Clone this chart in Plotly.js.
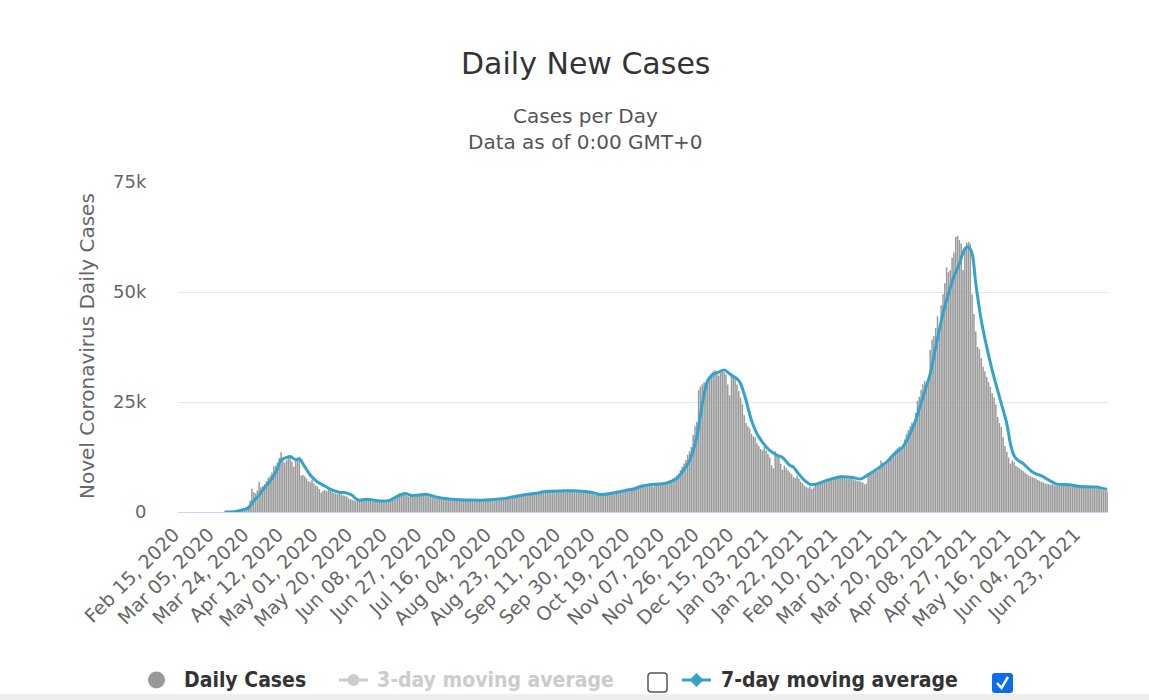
<!DOCTYPE html>
<html><head><meta charset="utf-8">
<script src="https://cdn.plot.ly/plotly-3.0.1.min.js"></script>
<style>html,body{margin:0;padding:0;background:#fff;}#chart{width:1149px;height:700px;}</style>
</head><body><div id="chart"></div>
<script>
// ---- data ----
const startDate = '2020-02-15';
const dailyCases = [
0,0,0,0,0,0,0,0,0,0,
0,0,0,0,0,0,0,0,0,0,
0,0,0,0,0,2,5,10,20,50,
100,150,250,350,500,700,900,1200,1500,2600,
5300,4500,4200,4900,6800,5600,5900,6300,7000,7800,
8300,9000,10300,10600,11200,12300,13600,12400,11200,11800,
12800,12300,11500,10300,11600,12000,12100,8300,8400,8100,
7600,7000,6800,7300,6500,6000,5800,5200,4400,4800,
5000,4700,5300,5100,4600,4300,4200,4100,4600,4000,
3800,3700,3500,3100,2900,2800,2600,2500,2500,2600,
2700,2600,2500,2700,2600,2500,2400,2500,2400,2400,
2300,2400,2500,2600,2700,2800,3000,3200,3400,3700,
4000,4300,4200,4100,3900,3700,3500,3600,3700,3800,
3800,3900,3800,3700,3800,3900,3700,3500,3400,3300,
3200,3100,3100,3000,2900,2900,2800,2800,2700,2700,
2600,2700,2600,2600,2700,2600,2500,2600,2600,2500,
2500,2600,2600,2500,2500,2600,2600,2600,2500,2600,
2600,2700,2700,2800,2800,2900,2900,3000,3000,3100,
3200,3200,3300,3300,3400,3500,3600,3700,3800,3800,
3900,4000,4000,4100,4200,4200,4300,4300,4400,4500,
4500,4600,4700,4700,4800,4800,4800,4700,4800,4800,
4900,4800,4700,4800,4800,4900,4800,4700,4800,4800,
4700,4700,4600,4600,4500,4400,4300,4100,4000,3900,
4000,4000,4100,4200,4200,4300,4300,4400,4400,4500,
4600,4700,4800,4800,4900,5000,5100,5200,5400,5500,
5700,5900,6000,6100,6200,6200,6300,6300,6200,6300,
5800,6300,6400,6400,6400,6500,6600,6700,7000,7200,
7300,7600,7900,8300,8700,9500,10200,11000,11800,13000,
13800,14800,17500,19500,20500,27700,28500,29000,29500,28900,
30200,30800,31500,31900,32200,31600,31000,31800,32300,31800,
31200,29000,26500,31300,31000,30500,29000,27500,26000,24500,
22000,20200,19500,19000,17800,17200,17000,15600,15000,14300,
14000,14800,14000,13200,12400,10600,9900,13800,13200,12600,
11000,9600,10500,10000,9500,9000,8600,8000,7700,8300,
7600,6900,6500,6000,5700,5400,5800,5200,5600,6100,
6400,6700,6500,6900,7000,7300,7200,7500,7700,7900,
7800,8000,8200,8300,8100,8000,7800,7600,7900,7700,
7400,7200,7100,7000,6800,6700,6300,6500,8800,9000,
9100,9300,9500,9400,9800,11700,11200,10600,11400,12000,
12300,12800,13400,14000,14500,14900,14600,15200,16500,17800,
18600,19500,20300,20100,22500,25300,26200,27800,29000,29800,
28500,30000,36800,39200,40000,41800,44500,42000,47000,49500,
52000,55600,54500,55000,57800,59000,62500,62800,61800,61000,
55000,60200,61200,61400,61000,49500,45000,41000,37500,37000,
35000,33000,32000,30700,29500,28400,27000,26000,24500,21600,
20200,19300,17000,15000,13700,12400,11000,11700,11300,10500,
10200,9900,9600,9300,9000,8600,8300,8100,7900,7700,
7500,7300,7100,6900,6700,6500,6400,6300,6200,6300,
6100,6000,6100,6000,6200,6100,5900,6000,5900,5800,
5900,5800,5700,5800,5700,5600,5800,5700,5600,5700,
5500,5600,5500,5400,5300,5200,5000,4900,4800,4700
];
// 7-day moving average, read at these day positions (index from startDate)
const maDayIndex = [25,30,33,36,38,41,44,47,51,54,56,59,61,64,66,69,72,76,80,84,88,92,95,97,99,103,107,110,116,119,124,127,130,136,141,147,154,161,168,177,188,195,202,210,219,226,231,239,246,250,254,258,265,269,273,276,280,284,287,290,293,296,299,302,306,308,311,314,317,320,324,328,331,335,337,339,343,347,350,356,363,369,374,378,383,389,392,397,401,404,408,412,415,419,422,425,428,431,433,435,437,440,443,446,450,454,456,458,460,463,468,474,481,488,494,503,509];
const maValues = [0,50,300,600,900,2500,3900,5500,7600,9800,11800,12400,12600,11900,12100,10300,8400,6800,5900,5000,4500,4300,3800,3000,2700,2900,2700,2500,2700,3400,4200,3800,3800,4000,3400,3000,2800,2700,2700,3000,3800,4200,4700,4800,4800,4500,4000,4400,5000,5300,5900,6200,6400,6800,7600,9100,11700,17000,24600,29900,31300,31800,32300,31400,30300,29200,25400,20800,17800,15900,14000,12900,12400,10600,10200,9100,7200,6200,6400,7300,8000,7900,7500,8500,9800,11700,13100,14800,17800,20800,26100,31400,37500,45100,49600,53500,56400,59800,60200,58700,51900,43600,37500,32200,26100,20100,15500,12800,11800,11000,9100,8000,6400,6200,5800,5700,5100];
const tickLabels = ['Feb 15, 2020','Mar 05, 2020','Mar 24, 2020','Apr 12, 2020','May 01, 2020','May 20, 2020','Jun 08, 2020','Jun 27, 2020','Jul 16, 2020','Aug 04, 2020','Aug 23, 2020','Sep 11, 2020','Sep 30, 2020','Oct 19, 2020','Nov 07, 2020','Nov 26, 2020','Dec 15, 2020','Jan 03, 2021','Jan 22, 2021','Feb 10, 2021','Mar 01, 2021','Mar 20, 2021','Apr 08, 2021','Apr 27, 2021','May 16, 2021','Jun 04, 2021','Jun 23, 2021'];
const tickStep = 19;
const yTickVals = [0,25000,50000,75000];
const yTickText = ['0','25k','50k','75k'];

// ---- categories (one per day) ----
const t0 = Date.parse(startDate + 'T00:00:00Z');
const dates = dailyCases.map((_, i) => new Date(t0 + i * 86400000).toISOString().slice(0, 10));
const tickVals = tickLabels.map((_, k) => dates[k * tickStep]);

// ---- pixel helpers for decorations ----
const W = 1149, H = 700, L = 178, R = 1108, T = 182, B = 512;
const px = x => (x - L) / (R - L);
const py = y => (B - y) / (B - T);
function roundRect(x0, y0, x1, y1, r) {
  const P = (x, y) => px(x) + ',' + py(y);
  return 'M' + P(x0 + r, y0) + ' L' + P(x1 - r, y0) + ' Q' + P(x1, y0) + ' ' + P(x1, y0 + r) +
    ' L' + P(x1, y1 - r) + ' Q' + P(x1, y1) + ' ' + P(x1 - r, y1) +
    ' L' + P(x0 + r, y1) + ' Q' + P(x0, y1) + ' ' + P(x0, y1 - r) +
    ' L' + P(x0, y0 + r) + ' Q' + P(x0, y0) + ' ' + P(x0 + r, y0) + ' Z';
}
function pathPx(pts, close) {
  return pts.map((p, i) => (i ? 'L' : 'M') + px(p[0]) + ',' + py(p[1])).join(' ') + (close ? ' Z' : '');
}

const FONT = 'DejaVu Sans, Verdana, sans-serif';
const LEGFONT = 'DejaVu Sans Condensed, Liberation Sans Narrow, DejaVu Sans, sans-serif';
const BLUE = '#33a3cc';

const traces = [
  { type: 'bar', x: dates, y: dailyCases, marker: { color: '#999999', line: { width: 0 } },
    name: 'Daily Cases', hoverinfo: 'x+y' },
  { type: 'scatter', mode: 'lines', x: maDayIndex.map(i => dates[i]), y: maValues,
    line: { color: BLUE, width: 3, shape: 'spline', smoothing: 0.8 }, name: '7-day moving average' }
];

const ann = (text, x, y, size, color, extra) => Object.assign({
  text, xref: 'paper', yref: 'paper', x: px(x), y: py(y), showarrow: false,
  xanchor: 'center', yanchor: 'middle', font: { family: FONT, size, color }
}, extra || {});

const layout = {
  width: W, height: H, showlegend: false,
  paper_bgcolor: '#ffffff', plot_bgcolor: '#ffffff',
  margin: { l: L, r: W - R, t: T, b: H - B, pad: 0 },
  font: { family: FONT, color: '#666666' },
  bargap: 0.18,
  xaxis: {
    type: 'date', range: [t0 - 43200000, t0 + (dailyCases.length - 1) * 86400000 + 43200000],
    tickmode: 'array', tickvals: tickVals, ticktext: tickLabels, tickangle: -45,
    tickfont: { family: FONT, size: 19, color: '#666666' },
    ticks: 'outside', ticklen: 3, tickcolor: 'rgba(0,0,0,0)', ticklabelshift: -5,
    showgrid: false, zeroline: false, showline: true, linecolor: '#ccd6eb', linewidth: 1,
    fixedrange: true
  },
  yaxis: {
    range: [0, 75000], tickmode: 'array', tickvals: yTickVals, ticktext: yTickText,
    tickfont: { family: FONT, size: 18, color: '#666666' },
    ticks: 'outside', ticklen: 27, tickcolor: 'rgba(0,0,0,0)',
    showgrid: true, gridcolor: '#e6e6e6', gridwidth: 1, zeroline: false, showline: false,
    fixedrange: true
  },
  annotations: [
    ann('Daily New Cases', 585, 63, 30, '#333333'),
    ann('Cases per Day', 585, 116, 20, '#555555'),
    ann('Data as of 0:00 GMT+0', 585, 142, 20, '#555555'),
    ann('Novel Coronavirus Daily Cases', 87, 346, 20, '#666666', { textangle: -90 }),
    ann('<b>Daily Cases</b>', 182, 680, 21, '#333333', { xanchor: 'left', font: { family: LEGFONT, size: 21, color: '#333333' } }),
    ann('<b>3-day moving average</b>', 375, 680, 21, '#cccccc', { xanchor: 'left', font: { family: LEGFONT, size: 21, color: '#cccccc' } }),
    ann('<b>7-day moving average</b>', 719, 680, 21, '#333333', { xanchor: 'left', font: { family: LEGFONT, size: 21, color: '#333333' } })
  ],
  shapes: [
    { type: 'rect', xref: 'paper', yref: 'paper', x0: px(0), x1: px(W), y0: py(700), y1: py(694),
      fillcolor: '#eeeeee', line: { width: 0 }, layer: 'below' },
    { type: 'circle', xref: 'paper', yref: 'paper', x0: px(148), x1: px(165), y0: py(688.5), y1: py(671.5),
      fillcolor: '#999999', line: { width: 0 } },
    { type: 'line', xref: 'paper', yref: 'paper', x0: px(339), x1: px(368), y0: py(680), y1: py(680),
      line: { color: '#cccccc', width: 3 } },
    { type: 'circle', xref: 'paper', yref: 'paper', x0: px(347.5), x1: px(359.5), y0: py(686), y1: py(674),
      fillcolor: '#cccccc', line: { width: 0 } },
    { type: 'path', xref: 'paper', yref: 'paper', path: roundRect(648, 673, 667, 692, 3),
      fillcolor: '#ffffff', line: { color: '#555555', width: 1.5 } },
    { type: 'line', xref: 'paper', yref: 'paper', x0: px(682), x1: px(711), y0: py(680), y1: py(680),
      line: { color: BLUE, width: 3 } },
    { type: 'path', xref: 'paper', yref: 'paper', path: pathPx([[696.5, 673], [703.5, 680], [696.5, 687], [689.5, 680]], true),
      fillcolor: BLUE, line: { width: 0 } },
    { type: 'path', xref: 'paper', yref: 'paper', path: roundRect(992, 673, 1013, 693, 3),
      fillcolor: '#0b6cf0', line: { width: 0 } },
    { type: 'path', xref: 'paper', yref: 'paper', path: pathPx([[997, 683], [1001.5, 688], [1008, 677]], false),
      line: { color: '#ffffff', width: 2.5 } }
  ]
};

Plotly.newPlot('chart', traces, layout, { displayModeBar: false, staticPlot: true });
</script>
</body></html>
